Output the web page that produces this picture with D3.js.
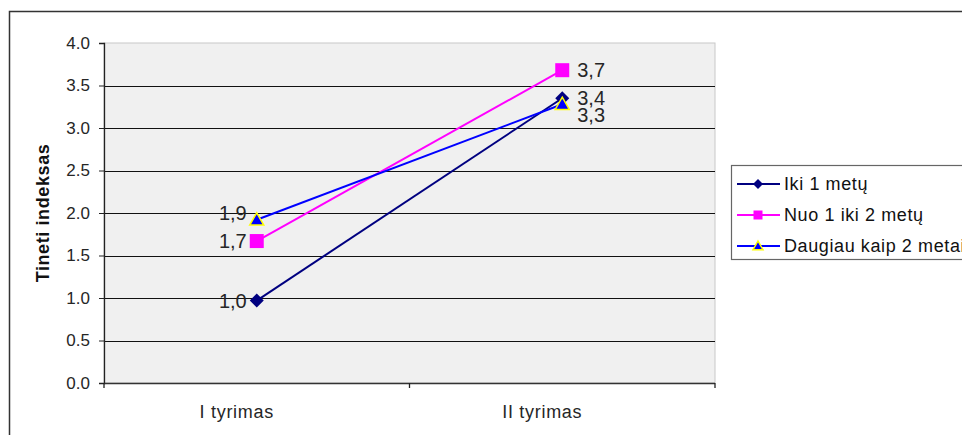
<!DOCTYPE html>
<html><head><meta charset="utf-8">
<script src="https://cdn.jsdelivr.net/npm/d3@7/dist/d3.min.js"></script>
<style>
html,body{margin:0;padding:0;background:#fff;}
svg{display:block;font-family:"Liberation Sans",Arial,sans-serif;}
</style></head>
<body>
<svg id="chart" width="962" height="435"></svg>
<script>
const categories = ["I tyrimas", "II tyrimas"];
const seriesNames = ["Iki 1 metų", "Nuo 1 iki 2 metų", "Daugiau kaip 2 metai"];
const ikiValues = [0.97, 3.35];
const nuoValues = [1.67, 3.68];
const daugiauValues = [1.92, 3.28];
const ikiLabels = ["1,0", "3,4"];
const nuoLabels = ["1,7", "3,7"];
const daugiauLabels = ["1,9", "3,3"];
const yTicks = [0, 0.5, 1, 1.5, 2, 2.5, 3, 3.5, 4];
const yTitle = "Tineti indeksas";

const series = [
  {name: seriesNames[0], values: ikiValues, labels: ikiLabels, color: "#000080", marker: "diamond"},
  {name: seriesNames[1], values: nuoValues, labels: nuoLabels, color: "#ff00ff", marker: "square"},
  {name: seriesNames[2], values: daugiauValues, labels: daugiauLabels, color: "#0000ff", marker: "triangle"}
];

const svg = d3.select("#chart");
const L = 104, R = 715, T = 43, B = 383;
const TXT = "#262626";

// outer border
svg.append("rect").attr("x", 9.5).attr("y", 11.5).attr("width", 1000).attr("height", 500)
  .attr("fill", "none").attr("stroke", "#333").attr("stroke-width", 1.5);

const x = d3.scaleBand().domain(categories).range([L, R]);
const y = d3.scaleLinear().domain([0, 4]).range([B, T]);

// plot area
svg.append("rect").attr("x", L).attr("y", T).attr("width", R - L).attr("height", B - T)
  .attr("fill", "#f0f0f0").attr("stroke", "#c8c8c8").attr("stroke-width", 1);

// gridlines
svg.append("g").selectAll("line").data(yTicks.filter(t => t > 0 && t < 4)).join("line")
  .attr("x1", L).attr("x2", R).attr("y1", d => Math.round(y(d)) + 0.5).attr("y2", d => Math.round(y(d)) + 0.5)
  .attr("stroke", "#111").attr("stroke-width", 1.2);

// y axis
const yAxis = svg.append("g").attr("transform", `translate(${L},0)`)
  .call(d3.axisLeft(y).tickValues(yTicks).tickFormat(d3.format(".1f")).tickSize(5).tickPadding(9));
yAxis.select(".domain").attr("stroke", "#222").attr("stroke-width", 1.3);
yAxis.selectAll(".tick line").attr("stroke", "#222");
yAxis.selectAll(".tick text").attr("font-size", 17).attr("fill", TXT).attr("font-family", "Liberation Sans, Arial, sans-serif");

// x axis
const xAxis = svg.append("g").attr("transform", `translate(0,${B})`);
xAxis.append("line").attr("x1", L).attr("x2", R).attr("y1", 0.5).attr("y2", 0.5).attr("stroke", "#333").attr("stroke-width", 1.5);
const bounds = [L].concat(categories.map(c => x(c) + x.bandwidth()));
xAxis.selectAll("line.tk").data(bounds).join("line").attr("class", "tk")
  .attr("x1", d => d).attr("x2", d => d).attr("y1", 0).attr("y2", 5).attr("stroke", "#222").attr("stroke-width", 1.3);
xAxis.selectAll("text").data(categories).join("text")
  .attr("x", d => x(d) + x.bandwidth() / 2 - 20).attr("y", 35)
  .attr("text-anchor", "middle").attr("font-size", 18).attr("letter-spacing", 0.7).attr("fill", TXT).text(d => d);

// y title
svg.append("text").attr("transform", `translate(49,${213}) rotate(-90)`)
  .attr("text-anchor", "middle").attr("font-size", 18).attr("letter-spacing", 0.6).attr("font-weight", "bold").attr("fill", "#111").text(yTitle);

function drawMarker(g, type, color, cx, cy, r) {
  if (type === "diamond") {
    g.append("path").attr("d", `M${cx},${cy - r}L${cx + r},${cy}L${cx},${cy + r}L${cx - r},${cy}Z`)
      .attr("fill", color);
  } else if (type === "square") {
    g.append("rect").attr("x", cx - r).attr("y", cy - r).attr("width", 2 * r).attr("height", 2 * r).attr("fill", color);
  } else {
    g.append("path").attr("d", `M${cx},${cy - r}L${cx + r},${cy + r * 0.75}L${cx - r},${cy + r * 0.75}Z`)
      .attr("fill", color).attr("stroke", "#ffff00").attr("stroke-width", 1.5);
  }
}

const cx = c => x(c) + x.bandwidth() / 2;
const line = d3.line().x((d, i) => cx(categories[i])).y(d => y(d));
const gLines = svg.append("g");
series.forEach(s => {
  gLines.append("path").datum(s.values).attr("d", line).attr("fill", "none").attr("stroke", s.color).attr("stroke-width", 2);
});
series.forEach(s => {
  s.values.forEach((v, i) => drawMarker(gLines, s.marker, s.color, cx(categories[i]), y(v), 7));
});
// data labels
series.forEach((s, si) => {
  s.values.forEach((v, i) => {
    const c = categories[i];
    const lbl = svg.append("text").attr("font-size", 20).attr("fill", TXT).text(s.labels[i]);
    if (i === 0) {
      const dy = si === 2 ? 0 : 7;
      lbl.attr("x", cx(c) - 10).attr("y", y(v) + dy).attr("text-anchor", "end");
    } else {
      const dy = si === 2 ? 18 : 7;
      lbl.attr("x", cx(c) + 15).attr("y", y(v) + dy).attr("text-anchor", "start");
    }
  });
});

// legend
const lg = svg.append("g");
lg.append("rect").attr("x", 731.5).attr("y", 165.5).attr("width", 260).attr("height", 94)
  .attr("fill", "#fff").attr("stroke", "#666").attr("stroke-width", 1.2);
series.forEach((s, i) => {
  const yy = 184 + i * 31;
  lg.append("line").attr("x1", 737).attr("x2", 780).attr("y1", yy).attr("y2", yy).attr("stroke", s.color).attr("stroke-width", 2);
  drawMarker(lg, s.marker, s.color, 758, yy, s.marker === "square" ? 4.5 : 5);
  lg.append("text").attr("x", 784).attr("y", yy + 6).attr("font-size", 18).attr("letter-spacing", 0.6).attr("fill", "#111").text(s.name);
});
</script>
</body></html>
